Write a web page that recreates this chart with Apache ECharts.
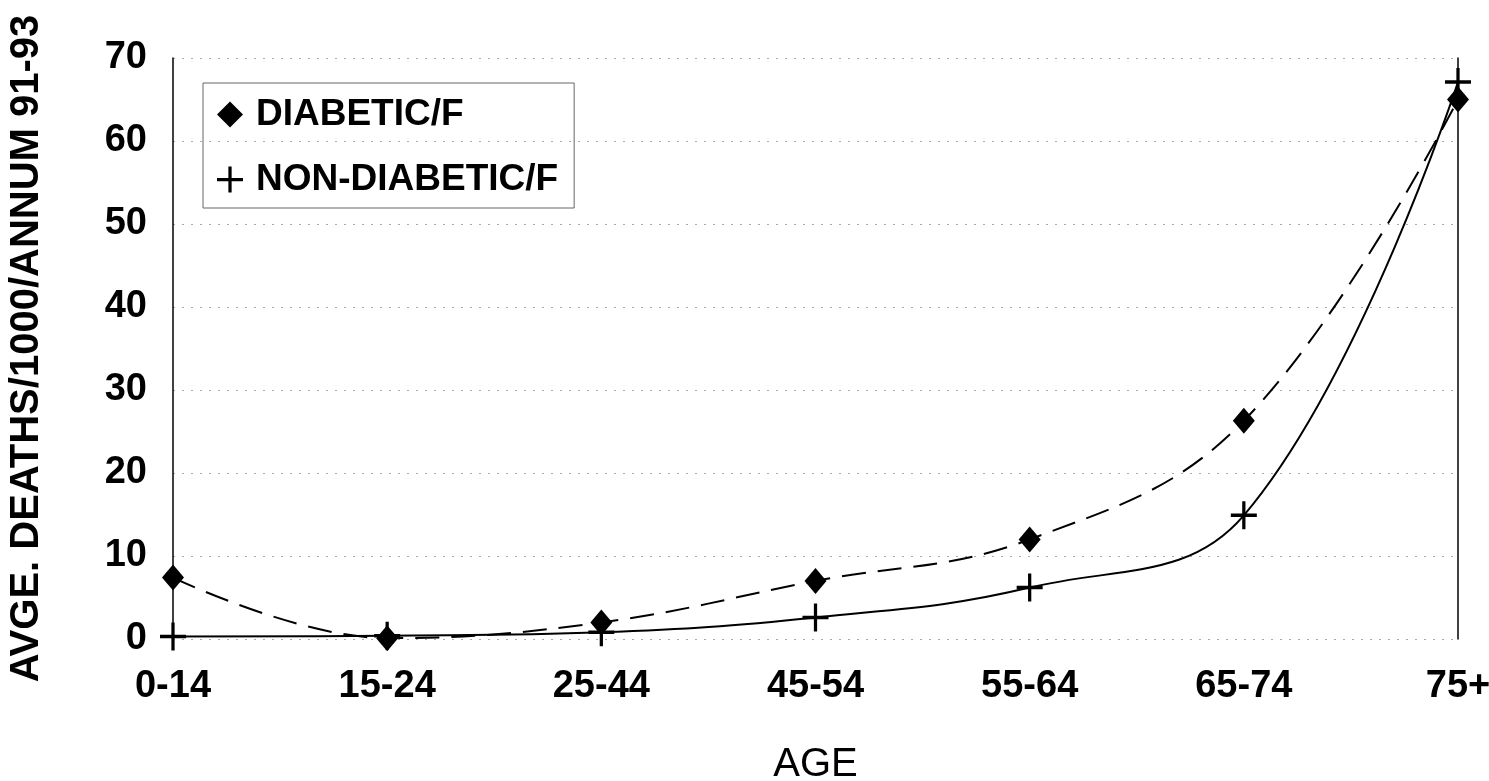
<!DOCTYPE html>
<html>
<head>
<meta charset="utf-8">
<script src="https://cdn.jsdelivr.net/npm/echarts@6/dist/echarts.min.js"></script>
<style>
html,body{margin:0;padding:0;background:#fff;}
#c{width:1489px;height:781px;}
</style>
</head>
<body>
<div id="c"></div>
<script>
const categories = ['0-14', '15-24', '25-44', '45-54', '55-64', '65-74', '75+'];
const diabeticF = [7.4, 0.1, 2.0, 7.0, 12.0, 26.3, 65.0];
const nonDiabeticF = [0.3, 0.4, 0.8, 2.6, 6.2, 14.9, 67.1];
const yTicks = [0, 10, 20, 30, 40, 50, 60, 70];

const FONT = '"Liberation Sans", Arial, sans-serif';
const PLUS = 'path://M10.5,0 h3 v10.5 h10.5 v3 h-10.5 v10.5 h-3 v-10.5 h-10.5 v-3 h10.5 z';

const chart = echarts.init(document.getElementById('c'), null, {renderer: 'canvas'});
chart.setOption({
  animation: false,
  backgroundColor: '#fff',
  grid: {left: 173, right: 31, top: 58, bottom: 142, containLabel: false, outerBoundsMode: 'none'},
  legend: {
    left: 203, top: 83, orient: 'vertical',
    padding: [13, 16, 10, 14],
    itemGap: 28, itemWidth: 26, itemHeight: 26,
    borderColor: '#666', borderWidth: 1,
    textStyle: {fontFamily: FONT, fontWeight: 'bold', fontSize: 37, color: '#000', padding: [0, 0, 0, 8]},
    data: [
      {name: 'DIABETIC/F', icon: 'diamond'},
      {name: 'NON-DIABETIC/F', icon: PLUS}
    ]
  },
  xAxis: {
    type: 'category', data: categories, boundaryGap: false,
    axisLine: {show: false}, axisTick: {show: false},
    axisLabel: {fontFamily: FONT, fontWeight: 'bold', fontSize: 38, color: '#000', margin: 29},
    splitLine: {show: false},
    name: 'AGE', nameLocation: 'middle', nameGap: 106,
    nameTextStyle: {fontFamily: FONT, fontSize: 40, color: '#000'}
  },
  yAxis: [{
    type: 'value', min: yTicks[0], max: yTicks[yTicks.length - 1], interval: 10,
    axisLine: {show: true, lineStyle: {color: '#000', width: 1.5}},
    axisTick: {show: false},
    axisLabel: {fontFamily: FONT, fontWeight: 'bold', fontSize: 38, color: '#000', margin: 26},
    splitLine: {show: true, lineStyle: {color: '#aaa', type: [2, 7], width: 1}},
    name: 'AVGE. DEATHS/1000/ANNUM 91-93', nameLocation: 'middle', nameGap: 126, nameRotate: 90,
    nameTextStyle: {fontFamily: FONT, fontWeight: 'bold', fontSize: 40, color: '#000'}
  }, {
    type: 'value', position: 'right', min: 0, max: 70, interval: 10,
    axisLine: {show: true, lineStyle: {color: '#000', width: 1.5}},
    axisTick: {show: false}, axisLabel: {show: false}, splitLine: {show: false}
  }],
  series: [{
    name: 'DIABETIC/F', type: 'line', data: diabeticF, smooth: 0.4, clip: false,
    symbol: 'diamond', symbolSize: [22, 26],
    itemStyle: {color: '#000'},
    lineStyle: {color: '#000', width: 2, type: [24, 12]},
    z: 3
  }, {
    name: 'NON-DIABETIC/F', type: 'line', data: nonDiabeticF, smooth: 0.4, clip: false,
    symbol: PLUS, symbolSize: [26, 28],
    itemStyle: {color: '#000'},
    lineStyle: {color: '#000', width: 2},
    z: 2
  }]
});
</script>
</body>
</html>
